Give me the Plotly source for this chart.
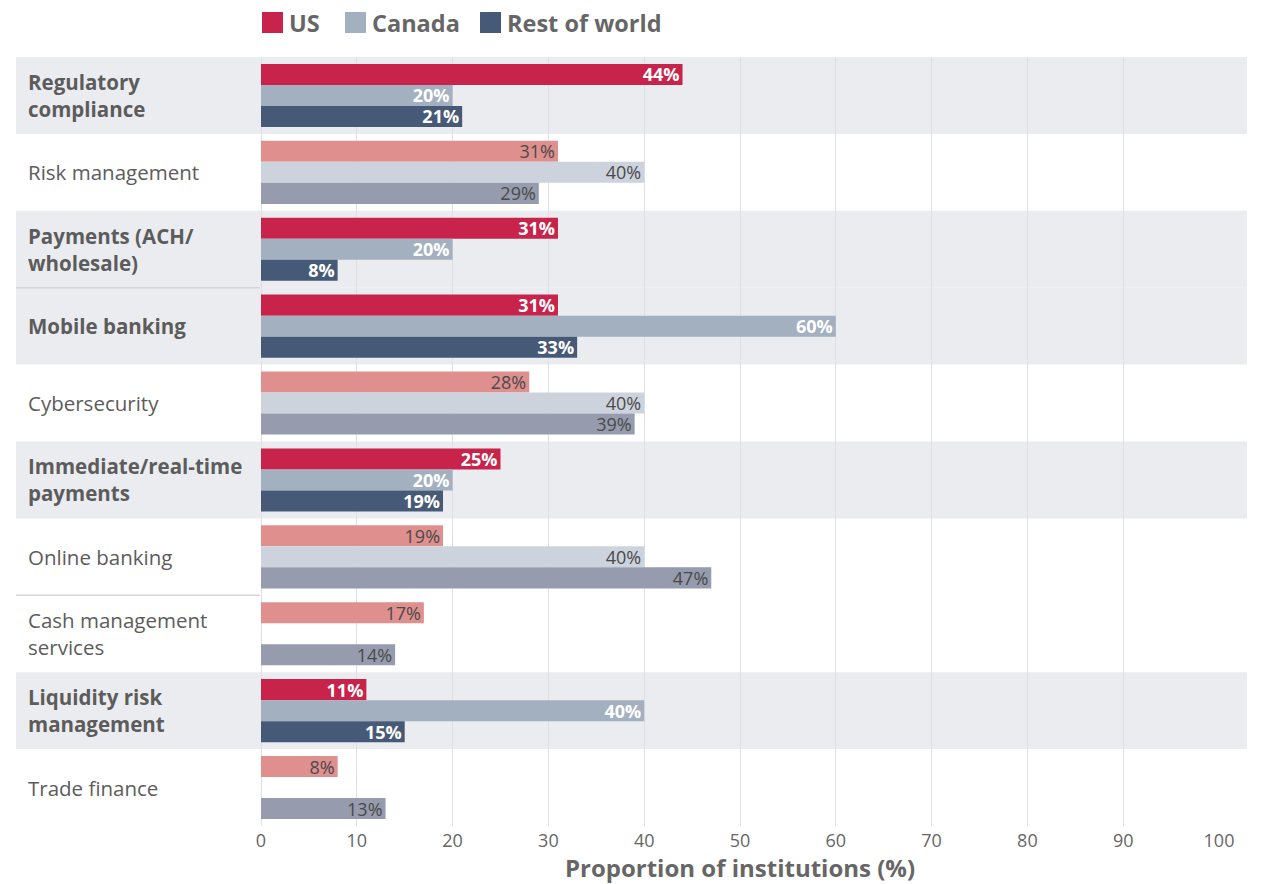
import plotly.graph_objects as go

# Survey data: share of institutions (%) by area and region
categories = [
    "Regulatory compliance",
    "Risk management",
    "Payments (ACH/wholesale)",
    "Mobile banking",
    "Cybersecurity",
    "Immediate/real-time payments",
    "Online banking",
    "Cash management services",
    "Liquidity risk management",
    "Trade finance",
]
label_lines = [
    "Regulatory<br>compliance",
    "Risk management",
    "Payments (ACH/<br>wholesale)",
    "Mobile banking",
    "Cybersecurity",
    "Immediate/real-time<br>payments",
    "Online banking",
    "Cash management<br>services",
    "Liquidity risk<br>management",
    "Trade finance",
]
highlighted = [True, False, True, True, False, True, False, False, True, False]

series_names = ["US", "Canada", "Rest of world"]
us_values = [44, 31, 31, 31, 28, 25, 19, 17, 11, 8]
canada_values = [20, 40, 20, 60, 40, 20, 40, None, 40, None]
row_values = [21, 29, 8, 33, 39, 19, 47, 14, 15, 13]

full_colors = ["#C8234A", "#A3B0C0", "#465A78"]
soft_colors = ["#E08F8F", "#CDD3DD", "#969BAE"]

W, H = 1282, 884
L, R, T, B = 261, 1219, 57, 826  # plot area in pixels


def px_x(px):
    return (px - L) / (R - L)


def px_y(py):
    return (B - py) / (B - T)


FONT = "Open Sans"
GREY_TEXT = "#5c5c5c"

fig = go.Figure()

for k, (name, vals) in enumerate(zip(series_names, [us_values, canada_values, row_values])):
    colors = [full_colors[k] if h else soft_colors[k] for h in highlighted]
    text = [
        "" if v is None else (f"<b>{v}%</b>" if h else f"{v}%")
        for v, h in zip(vals, highlighted)
    ]
    tcolors = ["#ffffff" if h else "#4a4a4a" for h in highlighted]
    fig.add_trace(
        go.Bar(
            y=categories,
            x=vals,
            name=name,
            orientation="h",
            marker=dict(color=colors, line=dict(width=0)),
            text=text,
            textposition="inside",
            insidetextanchor="end",
            textangle=0,
            constraintext="none",
            textfont=dict(family=FONT, size=18, color=tcolors),
            showlegend=False,
            hoverinfo="skip",
        )
    )

shapes = []
annotations = []

# Row bands behind highlighted categories
for i, h in enumerate(highlighted):
    if h:
        shapes.append(
            dict(
                type="rect", xref="paper", yref="y", layer="below",
                x0=px_x(16), x1=px_x(1247), y0=i - 0.5, y1=i + 0.5,
                fillcolor="#EBECF0", line=dict(width=0),
            )
        )

# Thin separators between adjacent label cells
for yb in [2.5, 6.5]:
    shapes.append(
        dict(
            type="line", xref="paper", yref="y", layer="above",
            x0=px_x(16), x1=px_x(260), y0=yb, y1=yb,
            line=dict(color="#D3D6DD", width=1.5),
        )
    )

# Category labels, left aligned
for i, (lab, h) in enumerate(zip(label_lines, highlighted)):
    annotations.append(
        dict(
            xref="paper", yref="y", x=px_x(26), y=i,
            xanchor="left", yanchor="middle", align="left",
            text=f"<b>{lab}</b>" if h else lab,
            showarrow=False,
            font=dict(family=FONT, size=20.5, color=GREY_TEXT),
        )
    )

# Legend swatches and names
legend_x = [262, 345, 480]
for k, name in enumerate(series_names):
    x0 = legend_x[k]
    shapes.append(
        dict(
            type="rect", xref="paper", yref="paper",
            x0=px_x(x0), x1=px_x(x0 + 21), y0=px_y(33), y1=px_y(12),
            fillcolor=full_colors[k], line=dict(width=0),
        )
    )
    annotations.append(
        dict(
            xref="paper", yref="paper", x=px_x(x0 + 25), y=px_y(22.5),
            xanchor="left", yanchor="middle",
            text=f"<b>{name}</b>", showarrow=False,
            font=dict(family=FONT, size=23.5, color="#666666"),
        )
    )

fig.update_layout(
    width=W, height=H,
    margin=dict(l=L, r=W - R, t=T, b=H - B),
    paper_bgcolor="white",
    plot_bgcolor="rgba(0,0,0,0)",
    barmode="group",
    bargap=0.18,
    bargroupgap=0,
    shapes=shapes,
    annotations=annotations,
    xaxis=dict(
        range=[0, 100],
        tick0=0, dtick=10,
        automargin=False,
        showgrid=True, gridcolor="#DCDFE6", gridwidth=1,
        zeroline=True, zerolinecolor="#DCDFE6", zerolinewidth=1,
        showline=False, ticks="",
        ticklabelstandoff=2,
        tickfont=dict(family=FONT, size=18, color="#666666"),
        title=dict(
            text="<b>Proportion of institutions (%)</b>",
            font=dict(family=FONT, size=24, color="#666666"),
            standoff=17,
        ),
    ),
    yaxis=dict(
        autorange="reversed",
        automargin=False,
        showticklabels=False,
        showgrid=False, zeroline=False, ticks="",
    ),
)

fig.write_html("out.html")
